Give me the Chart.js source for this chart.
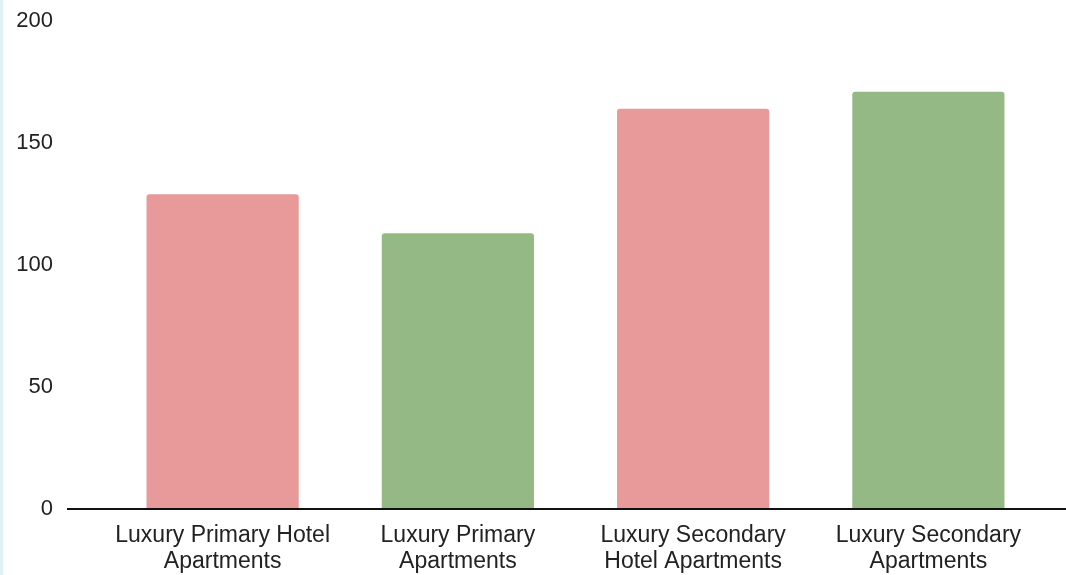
<!DOCTYPE html>
<html>
<head>
<meta charset="utf-8">
<script src="https://cdn.jsdelivr.net/npm/chart.js@4"></script>
<style>
  html, body { margin: 0; padding: 0; background: #fff; }
  #wrap { position: relative; width: 1066px; height: 575px; }
  #edge { position: absolute; left: 0; top: 0; width: 3px; height: 575px; background: #e1f0f6; }
</style>
</head>
<body>
<div id="wrap">
  <canvas id="myChart" width="1066" height="575"></canvas>
  <div id="edge"></div>
</div>
<script>
var xValues = [
  ["Luxury Primary Hotel", "Apartments"],
  ["Luxury Primary", "Apartments"],
  ["Luxury Secondary", "Hotel Apartments"],
  ["Luxury Secondary", "Apartments"]
]
var yValues = [129, 113, 164, 171]
var barColors = ["#e8999a", "#95b985", "#e8999a", "#95b985"]
var yTicks = [0, 50, 100, 150, 200]

// black zero line, runs past the plot on both sides
var baseLine = {
  id: "baseLine",
  afterDatasetsDraw(chart) {
    var ctx = chart.ctx
    var y = chart.scales.y.getPixelForValue(0)
    ctx.save()
    ctx.strokeStyle = "#111"
    ctx.lineWidth = 2
    ctx.beginPath()
    ctx.moveTo(chart.chartArea.left - 38, y)
    ctx.lineTo(chart.width, y)
    ctx.stroke()
    ctx.restore()
  }
}

Chart.defaults.font.family = "'Liberation Sans', Arial, sans-serif"
Chart.defaults.color = "#222"

function noPad(s) {
  s.paddingTop = 0
  s.paddingBottom = 0
  s.paddingLeft = 0
  s.paddingRight = 0
}

new Chart("myChart", {
  type: "bar",
  data: {
    labels: xValues,
    datasets: [{
      data: yValues,
      backgroundColor: barColors,
      borderRadius: { topLeft: 3, topRight: 3 },
      borderSkipped: "start",
      categoryPercentage: 1,
      barPercentage: 0.647
    }]
  },
  options: {
    responsive: false,
    animation: false,
    layout: { padding: { left: 10, right: 20, top: 21, bottom: 0 } },
    plugins: {
      legend: { display: false },
      tooltip: { enabled: false }
    },
    scales: {
      y: {
        min: 0,
        max: 200,
        afterBuildTicks: s => { s.ticks = yTicks.map(v => ({ value: v })) },
        afterFit: s => { s.width = 95; noPad(s) },
        grid: { display: false },
        border: { display: false },
        ticks: { padding: 44, font: { size: 22 } }
      },
      x: {
        afterFit: s => { s.height = 66; noPad(s) },
        grid: { display: false },
        border: { display: false },
        ticks: { padding: 6, maxRotation: 0, autoSkip: false, font: { size: 23, lineHeight: 1.13 } }
      }
    }
  },
  plugins: [baseLine]
})
</script>
</body>
</html>
